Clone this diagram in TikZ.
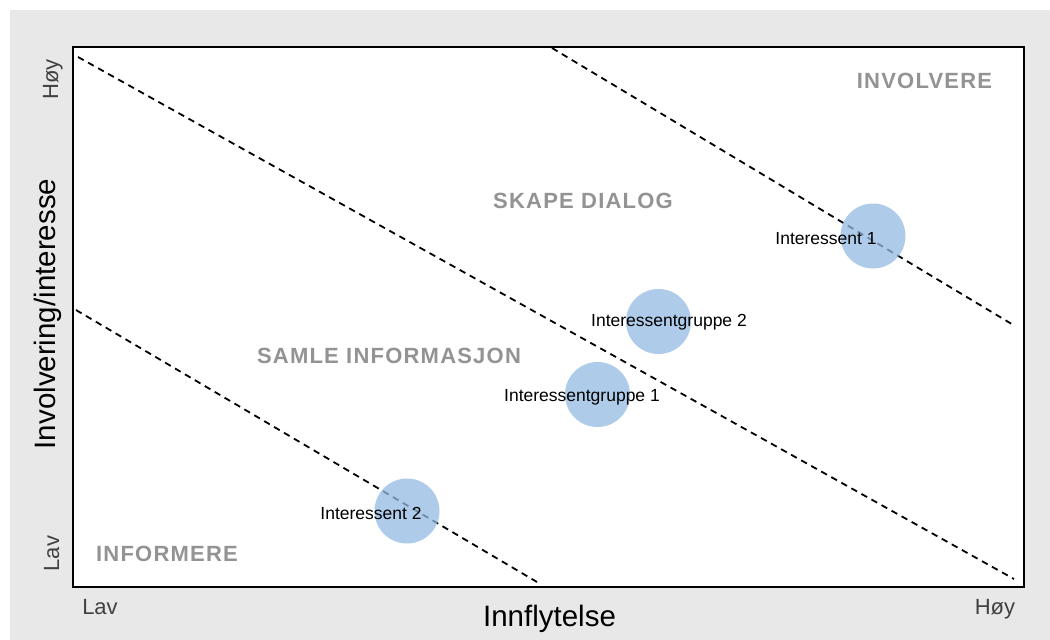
\documentclass[tikz,border=0pt]{standalone}
\usepackage{fontspec}
\setmainfont{Liberation Sans}
\usepackage{xcolor}
\usetikzlibrary{positioning}

\definecolor{bggrey}{HTML}{E8E8E8}
\definecolor{zonegrey}{HTML}{939393}
\definecolor{tickgrey}{HTML}{404040}
\definecolor{actorblue}{HTML}{93BAE4}

\begin{document}
\begin{tikzpicture}[x=1pt,y=-1pt,
    zonetext/.style={text=zonegrey, anchor=base, inner sep=0pt,
        font=\fontsize{22}{24}\selectfont\bfseries\addfontfeature{LetterSpace=5.5}},
    ticktext/.style={text=tickgrey, anchor=base, inner sep=0pt,
        font=\fontsize{22}{24}\selectfont},
    axistext/.style={text=black, anchor=base, inner sep=0pt,
        font=\fontsize{29.5}{32}\selectfont},
    actor/.style={circle, minimum size=65pt, inner sep=0pt,
        fill=actorblue, fill opacity=0.75},
    actortext/.style={text=black, anchor=base, inner sep=0pt,
        font=\fontsize{17.5}{20}\selectfont},
    divider/.style={line width=1.8pt, dash pattern=on 6.5pt off 5pt}
]
\useasboundingbox (0,0) rectangle (1050,640);

% background and frame
\fill[bggrey] (10,10) rectangle (1050,640);
\draw[line width=2pt, fill=white] (73,47) rectangle (1024,587);

% zone borders
\draw[divider] (78,57) -- (1014,579);
\draw[divider] (76,310) -- (537,582);
\draw[divider] (552,48) -- (1015,326);

% zones
\node[zonetext] (involvere) at (924.5,88) {INVOLVERE};
\node[zonetext] (dialog) at (583,208) {SKAPE DIALOG};
\node[zonetext] (samle) at (389,363) {SAMLE INFORMASJON};
\node[zonetext] (informere) at (167,561) {INFORMERE};

% stakeholders
\node[actor] (int1) at (873,236) {};
\node[actor] (grp2) at (658.5,321.5) {};
\node[actor] (grp1) at (597.5,394.5) {};
\node[actor] (int2) at (407,511) {};

\node[actortext] (int1txt) at (826,244) {Interessent 1};
\node[actortext] (grp2txt) at (669,326) {Interessentgruppe 2};
\node[actortext] (grp1txt) at (582,401) {Interessentgruppe 1};
\node[actortext] (int2txt) at (371,519) {Interessent 2};

% axes
\node[ticktext] (xlav) at (100,614) {Lav};
\node[ticktext] (xhoy) at (995,614) {Høy};
\node[ticktext, rotate=90] (yhoy) at (58,79.5) {Høy};
\node[ticktext, rotate=90] (ylav) at (59,553.5) {Lav};
\node[axistext] (xtitle) at (549.5,626.5) {Innflytelse};
\node[axistext, rotate=90] (ytitle) at (55,314) {Involvering/interesse};
\end{tikzpicture}
\end{document}
